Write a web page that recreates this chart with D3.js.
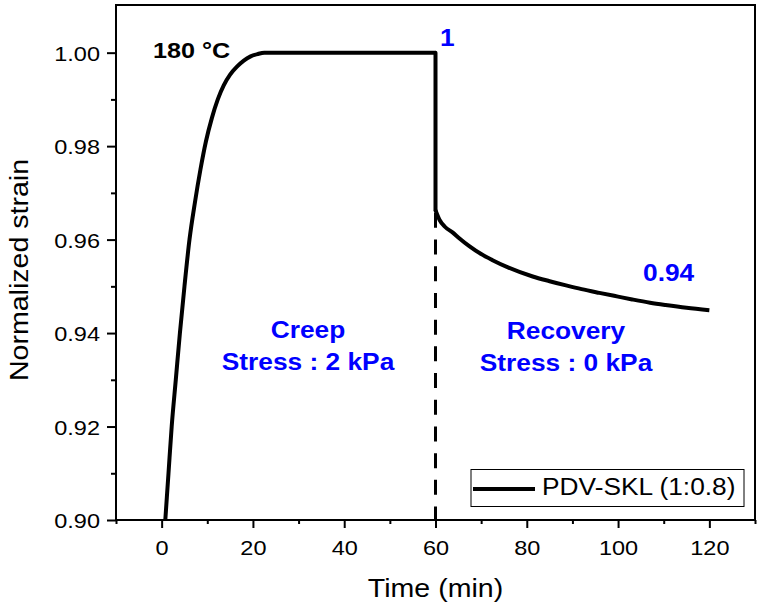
<!DOCTYPE html>
<html>
<head>
<meta charset="utf-8">
<script src="https://cdn.jsdelivr.net/npm/d3@7"></script>
<style>
  html, body { margin: 0; padding: 0; background: #fff; }
  svg { display: block; font-family: "Liberation Sans", Arial, sans-serif; }
</style>
</head>
<body>
<svg id="chart" width="757" height="606"></svg>
<script>
// ---- data ----
const creepTime   = [0.8, 1.5, 2.2, 3.1, 4.0, 5.0, 6.1, 7.3, 8.5, 9.7, 11.0, 12.3, 13.6, 15.0, 16.5, 18.0, 19.5, 21.0, 22.5, 30, 40, 50, 60];
const creepStrain = [0.900, 0.910, 0.920, 0.930, 0.940, 0.950, 0.960, 0.968, 0.975, 0.981, 0.986, 0.990, 0.9930, 0.9953, 0.9970, 0.9983, 0.9992, 0.9997, 1.000, 1.000, 1.000, 1.000, 1.000];
const recoveryTime   = [60, 60.9, 62, 63.8, 65.2, 67.4, 70, 72.5, 76, 81.3, 85, 88.6, 92, 95.9, 100, 103.1, 107, 110.4, 115, 120];
const recoveryStrain = [0.9663, 0.9642, 0.9628, 0.9615, 0.9603, 0.9586, 0.9569, 0.9556, 0.9540, 0.9521, 0.9511, 0.9502, 0.9494, 0.9486, 0.9478, 0.9472, 0.9465, 0.9460, 0.9454, 0.9449];
const seriesName = "PDV-SKL (1:0.8)";
const switchTime = 60;

const xMajorTicks = [0, 20, 40, 60, 80, 100, 120];
const xMinorTicks = [-10, 10, 30, 50, 70, 90, 110, 130];
const yMajorTicks = [0.90, 0.92, 0.94, 0.96, 0.98, 1.00];
const yMinorTicks = [0.91, 0.93, 0.95, 0.97, 0.99];
const xDomain = [-10, 130];
const yDomain = [0.90, 1.0102];

const xTitle = "Time (min)";
const yTitle = "Normalized strain";

// ---- layout ----
const W = 757, H = 606;
const L = 116, R = 755, T = 5, B = 520;
const SX = 1.12; // horizontal stretch of the original's text
const BLUE = "#0000ff";

const svg = d3.select("#chart");
const x = d3.scaleLinear().domain(xDomain).range([L, R]);
const y = d3.scaleLinear().domain(yDomain).range([B, T]);

const creepPts = creepTime.map((t, i) => [t, creepStrain[i]]);
const recPts = recoveryTime.map((t, i) => [t, recoveryStrain[i]]);

// dashed separator at switch time
svg.append("line")
  .attr("x1", x(switchTime)).attr("x2", x(switchTime))
  .attr("y1", y(1.0)).attr("y2", y(yDomain[0]))
  .attr("stroke", "#000").attr("stroke-width", 3)
  .attr("stroke-dasharray", "15,11.7");

// curve
const smooth = d3.line().x(d => x(d[0])).y(d => y(d[1])).curve(d3.curveMonotoneX);
const straight = d3.line().x(d => x(d[0])).y(d => y(d[1]));
const curveStyle = sel => sel.attr("fill", "none").attr("stroke", "#000")
  .attr("stroke-width", 4).attr("stroke-linejoin", "round").attr("stroke-linecap", "butt");
svg.append("path").datum(creepPts).call(curveStyle).attr("d", smooth);
svg.append("path").datum([creepPts[creepPts.length - 1], recPts[0]]).call(curveStyle)
  .attr("stroke-linecap", "round").attr("d", straight);
svg.append("path").datum(recPts).call(curveStyle).attr("d", smooth);

// axes
const fontTick = 21;
const xAx = svg.append("g").attr("transform", `translate(0,${B})`)
  .call(d3.axisBottom(x).tickValues(xMajorTicks).tickSize(8).tickFormat(d3.format("d")));
xAx.select(".domain").remove();
xAx.selectAll(".tick line").attr("stroke", "#000").attr("stroke-width", 2);
xAx.selectAll(".tick text")
  .attr("y", 35).attr("dy", null)
  .attr("transform", `scale(${SX},1)`)
  .attr("fill", "#000")
  .style("font-size", fontTick + "px").style("font-family", "Liberation Sans, Arial, sans-serif");

const xMin = svg.append("g").attr("transform", `translate(0,${B})`)
  .call(d3.axisBottom(x).tickValues(xMinorTicks).tickSize(4).tickFormat(""));
xMin.select(".domain").remove();
xMin.selectAll(".tick line").attr("stroke", "#000").attr("stroke-width", 2);

const yAx = svg.append("g").attr("transform", `translate(${L},0)`)
  .call(d3.axisLeft(y).tickValues(yMajorTicks).tickSize(9).tickFormat(d3.format(".2f")));
yAx.select(".domain").remove();
yAx.selectAll(".tick line").attr("stroke", "#000").attr("stroke-width", 2);
yAx.selectAll(".tick text")
  .attr("x", -16 / SX).attr("dy", "0.36em")
  .attr("transform", `scale(${SX},1)`)
  .attr("fill", "#000")
  .style("font-size", fontTick + "px").style("font-family", "Liberation Sans, Arial, sans-serif");

const yMin = svg.append("g").attr("transform", `translate(${L},0)`)
  .call(d3.axisLeft(y).tickValues(yMinorTicks).tickSize(5).tickFormat(""));
yMin.select(".domain").remove();
yMin.selectAll(".tick line").attr("stroke", "#000").attr("stroke-width", 2);

// frame
svg.append("rect")
  .attr("x", L).attr("y", T).attr("width", R - L).attr("height", B - T)
  .attr("fill", "none").attr("stroke", "#000").attr("stroke-width", 2);

// text helper with horizontal stretch
function label(px, py, str, opts) {
  const g = svg.append("g").attr("transform", `translate(${px},${py})${opts.rotate ? " rotate(" + opts.rotate + ")" : ""}`);
  g.append("text")
    .attr("transform", `scale(${SX},1)`)
    .attr("text-anchor", opts.anchor || "start")
    .attr("fill", opts.color || "#000")
    .style("font-size", opts.size + "px")
    .style("font-weight", opts.bold ? "bold" : "normal")
    .text(str);
}

// axis titles
label((L + R) / 2, 597, xTitle, { size: 25.5, anchor: "middle" });
label(28, 270, yTitle, { size: 25.5, anchor: "middle", rotate: -90 });

// annotations
label(153, 58, "180 °C", { size: 22.5, bold: true });
label(440, 46, "1", { size: 23.5, bold: true, color: BLUE });
label(643, 281, "0.94", { size: 23.5, bold: true, color: BLUE });
label(308, 338, "Creep", { size: 23.5, bold: true, color: BLUE, anchor: "middle" });
label(308, 370, "Stress : 2 kPa", { size: 23.5, bold: true, color: BLUE, anchor: "middle" });
label(566, 339, "Recovery", { size: 23.5, bold: true, color: BLUE, anchor: "middle" });
label(566, 371, "Stress : 0 kPa", { size: 23.5, bold: true, color: BLUE, anchor: "middle" });

// legend
svg.append("rect")
  .attr("x", 471).attr("y", 469.5).attr("width", 273).attr("height", 37)
  .attr("fill", "#fff").attr("stroke", "#000").attr("stroke-width", 1);
svg.append("line")
  .attr("x1", 473).attr("x2", 535).attr("y1", 489).attr("y2", 489)
  .attr("stroke", "#000").attr("stroke-width", 4);
label(542, 495, seriesName, { size: 23.5 });
</script>
</body>
</html>
